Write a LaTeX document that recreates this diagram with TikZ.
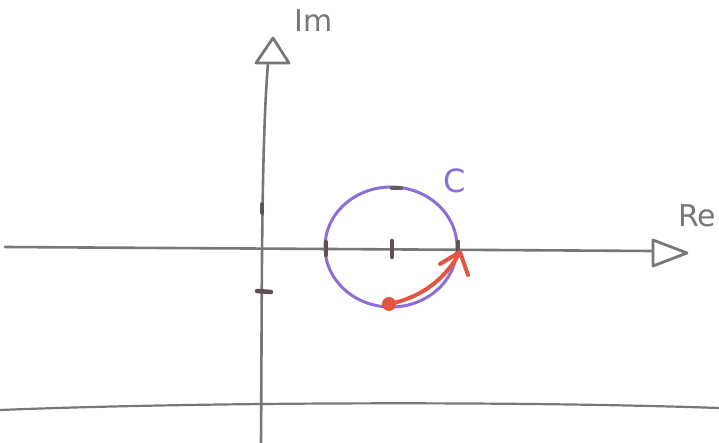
\documentclass[tikz,border=0pt]{standalone}
\usepackage{fontspec}
\setmainfont{DejaVu Sans}
\usetikzlibrary{arrows.meta}
\definecolor{axisgrey}{RGB}{120,118,118}
\definecolor{tickdark}{RGB}{95,80,85}
\definecolor{circpurple}{RGB}{140,110,215}
\definecolor{arcred}{RGB}{225,85,65}
\tikzset{
  axisline/.style={draw=axisgrey, line width=2.6pt, line cap=round},
  openhead/.style={draw=axisgrey, line width=2.8pt, line join=round, fill=white},
  tickmark/.style={draw=tickdark, line width=4.5pt, line cap=round},
  lbl/.style={text=axisgrey, font=\fontsize{30}{32}\selectfont, inner sep=0pt},
}
\begin{document}
\begin{tikzpicture}[x=1pt,y=-1pt]
\useasboundingbox (0,0) rectangle (719,443);
% bottom line
\draw[axisline, line width=2.2pt] (0,410) .. controls (200,402) and (520,401) .. (719,408);
% real axis
\draw[axisline] (5,247) -- (653,251);
\draw[openhead] (653,240) -- (687,253) -- (653,266) -- cycle;
% imaginary axis
\draw[axisline] (261,443) .. controls (262,300) and (261,150) .. (268,63);
\draw[openhead] (256,63) -- (273,38) -- (289,63) -- cycle;
% labels
\node[lbl] (im) at (314,21) {Im};
\node[lbl] (re) at (697,216) {Re};
\node[text=circpurple, font=\fontsize{32}{34}\selectfont, inner sep=0pt] (c) at (455,181) {C};
% ticks on imaginary axis
\draw[tickmark, line width=3.5pt] (262,204) -- (262,213);
\draw[tickmark] (257,291) -- (271,292);
% circle
\draw[circpurple, line width=3pt] (391,247) ellipse [x radius=66, y radius=60];
% ticks on real axis
\draw[tickmark] (392,241) -- (392,257);
\draw[tickmark] (326,242) -- (326,255);
\draw[tickmark] (458,242) -- (458,255);
\draw[tickmark, draw=axisgrey!80!black] (392,188) -- (401,188);
% red arc
\fill[arcred] (389,304) circle (7);
\draw[arcred, line width=4pt, line cap=round] (389,304) .. controls (420,298) and (445,280) .. (460,252);
\draw[arcred, line width=4pt, line cap=round, line join=round] (440,264) -- (460,252) -- (468,275);
\coordinate (arctip) at (460,252);
\end{tikzpicture}
\end{document}
